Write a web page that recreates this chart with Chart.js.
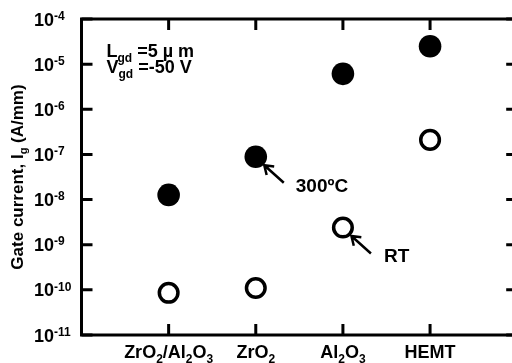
<!DOCTYPE html>
<html>
<head>
<meta charset="utf-8">
<script src="https://cdn.jsdelivr.net/npm/chart.js@4/dist/chart.umd.min.js"></script>
<style>
  html, body { margin: 0; padding: 0; background: #fff; overflow: hidden; }
  canvas { display: block; }
</style>
</head>
<body>
<canvas id="myChart" width="530" height="363"></canvas>
<script>
"use strict";

// _{..} = subscript, ^{..} = superscript
const categories = ['ZrO_{2}/Al_{2}O_{3}', 'ZrO_{2}', 'Al_{2}O_{3}', 'HEMT'];
const hotValues = [1.27e-8, 8.9e-8, 6.1e-6, 2.5e-5];   // 300ºC, filled circles
const rtValues = [8.6e-11, 1.1e-10, 2.4e-9, 2.1e-7];   // RT, open circles
const yTicks = [1e-11, 1e-10, 1e-9, 1e-8, 1e-7, 1e-6, 1e-5, 1e-4];
const yTickLabels = ['10^{-11}', '10^{-10}', '10^{-9}', '10^{-8}', '10^{-7}', '10^{-6}', '10^{-5}', '10^{-4}'];
const yTitle = 'Gate current, I_{g} (A/mm)';
const noteLines = ['L_{gd} =5 \u00b5 m', 'V_{gd} =-50 V'];
const hotLabel = '300\u00baC';
const rtLabel = 'RT';

const FONT = "'Liberation Sans', Arial, sans-serif";

function parseRich(str) {
  const parts = [];
  const re = /_\{([^}]*)\}|\^\{([^}]*)\}|([^_^]+)/g;
  let m;
  while ((m = re.exec(str)) !== null) {
    if (m[1] !== undefined) parts.push({ t: m[1], k: 'sub' });
    else if (m[2] !== undefined) parts.push({ t: m[2], k: 'sup' });
    else parts.push({ t: m[3], k: 'n' });
  }
  return parts;
}

function drawRich(ctx, str, x, y, size, align) {
  const parts = parseRich(str);
  const small = Math.round(size * 0.66);
  let total = 0;
  parts.forEach(p => {
    ctx.font = 'bold ' + (p.k === 'n' ? size : small) + 'px ' + FONT;
    p.w = ctx.measureText(p.t).width;
    total += p.w;
  });
  let cx = x;
  if (align === 'center') cx = x - total / 2;
  if (align === 'right') cx = x - total;
  ctx.textAlign = 'left';
  ctx.textBaseline = 'alphabetic';
  parts.forEach(p => {
    ctx.font = 'bold ' + (p.k === 'n' ? size : small) + 'px ' + FONT;
    let dy = 0;
    if (p.k === 'sub') dy = size * 0.25;
    if (p.k === 'sup') dy = -size * 0.32;
    ctx.fillText(p.t, cx, y + dy);
    cx += p.w;
  });
}

function arrow(ctx, x1, y1, x2, y2) {
  // from tail (x1,y1) to tip (x2,y2), open head
  const a = Math.atan2(y2 - y1, x2 - x1);
  const h = 10;
  ctx.beginPath();
  ctx.moveTo(x1, y1);
  ctx.lineTo(x2, y2);
  ctx.moveTo(x2 - h * Math.cos(a - 0.6), y2 - h * Math.sin(a - 0.6));
  ctx.lineTo(x2, y2);
  ctx.lineTo(x2 - h * Math.cos(a + 0.6), y2 - h * Math.sin(a + 0.6));
  ctx.stroke();
}

const framePlugin = {
  id: 'frame',
  afterDraw(chart) {
    const ctx = chart.ctx;
    const area = chart.chartArea;
    const xs = chart.scales.x;
    const ys = chart.scales.y;
    ctx.save();
    ctx.strokeStyle = '#000';
    ctx.fillStyle = '#000';
    ctx.lineWidth = 3;
    ctx.lineCap = 'butt';
    ctx.strokeRect(area.left, area.top, area.right - area.left, area.bottom - area.top);

    // inward ticks
    const tl = 11;
    ctx.beginPath();
    yTicks.forEach(v => {
      const py = ys.getPixelForValue(v);
      ctx.moveTo(area.left, py); ctx.lineTo(area.left + tl, py);
      ctx.moveTo(area.right, py); ctx.lineTo(area.right - tl, py);
    });
    categories.forEach((c, i) => {
      const px = xs.getPixelForValue(i + 1);
      ctx.moveTo(px, area.bottom); ctx.lineTo(px, area.bottom - tl);
      ctx.moveTo(px, area.top); ctx.lineTo(px, area.top + tl);
    });
    ctx.stroke();

    // tick labels
    yTicks.forEach((v, i) => {
      const py = ys.getPixelForValue(v);
      drawRich(ctx, yTickLabels[i], 34, py + 6.5, 18, 'left');
    });
    categories.forEach((c, i) => {
      const px = xs.getPixelForValue(i + 1);
      drawRich(ctx, c, px, area.bottom + 23, 18, 'center');
    });

    // axis title
    ctx.save();
    ctx.translate(23, (area.top + area.bottom) / 2);
    ctx.rotate(-Math.PI / 2);
    drawRich(ctx, yTitle, 0, 0, 17, 'center');
    ctx.restore();

    // note
    drawRich(ctx, noteLines[0], area.left + 25, area.top + 38, 18, 'left');
    drawRich(ctx, noteLines[1], area.left + 25, area.top + 54, 18, 'left');

    // arrows and labels
    ctx.lineWidth = 2.5;
    const hx = xs.getPixelForValue(2), hy = ys.getPixelForValue(hotValues[1]);
    arrow(ctx, hx + 28, hy + 26, hx + 8.5, hy + 8.5);
    drawRich(ctx, hotLabel, hx + 40, hy + 35, 19, 'left');
    const rx = xs.getPixelForValue(3), ry = ys.getPixelForValue(rtValues[2]);
    arrow(ctx, rx + 28, ry + 26, rx + 8.5, ry + 8.5);
    drawRich(ctx, rtLabel, rx + 41, ry + 34.5, 19, 'left');
    ctx.restore();
  }
};

const data = {
  datasets: [
    {
      label: '300\u00baC',
      data: hotValues.map((v, i) => ({ x: i + 1, y: v })),
      pointRadius: 11.3,
      pointBackgroundColor: '#000',
      pointBorderColor: '#000',
      pointBorderWidth: 0,
      showLine: false
    },
    {
      label: 'RT',
      data: rtValues.map((v, i) => ({ x: i + 1, y: v })),
      pointRadius: 9.3,
      pointBackgroundColor: '#fff',
      pointBorderColor: '#000',
      pointBorderWidth: 3.5,
      showLine: false
    }
  ]
};

const config = {
  type: 'scatter',
  data: data,
  options: {
    responsive: false,
    animation: false,
    events: [],
    layout: { padding: { left: 81.5, top: 19, right: 4, bottom: 28 } },
    plugins: { legend: { display: false }, tooltip: { enabled: false } },
    scales: {
      x: { type: 'linear', min: 0, max: 5, display: false },
      y: { type: 'logarithmic', min: 1e-11, max: 1e-4, display: false }
    }
  },
  plugins: [framePlugin]
};

const myChart = new Chart(document.getElementById('myChart'), config);
</script>
</body>
</html>
